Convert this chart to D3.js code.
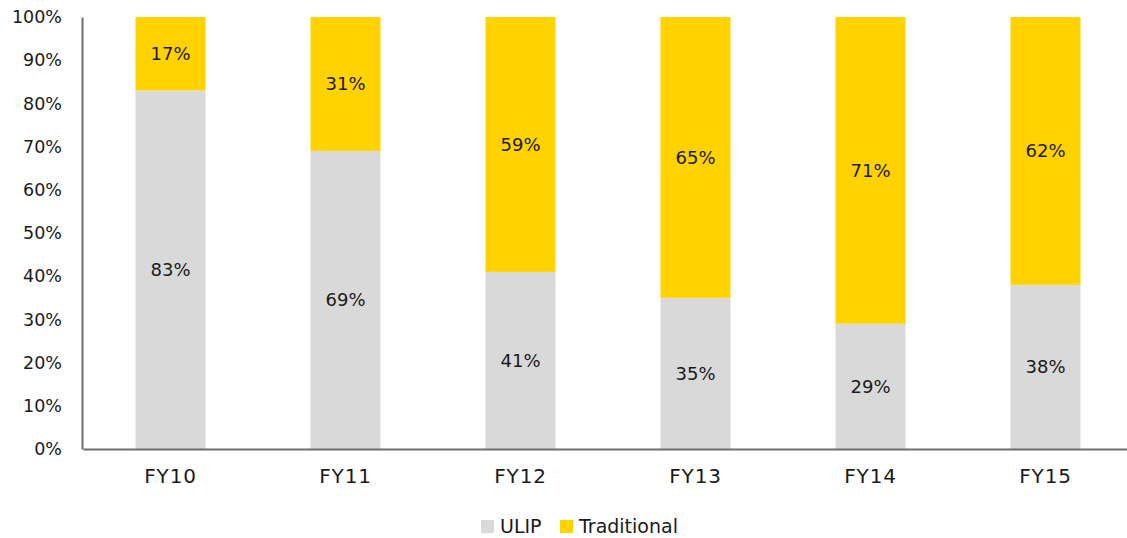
<!DOCTYPE html>
<html>
<head>
<meta charset="utf-8">
<script src="https://cdn.jsdelivr.net/npm/d3@7"></script>
<style>
  body { margin: 0; background: #fff; }
  text { font-family: "DejaVu Sans", sans-serif; fill: #1a1a1a; }
</style>
</head>
<body>
<script>
// data
const years = ["FY10", "FY11", "FY12", "FY13", "FY14", "FY15"];
const ulip = [83, 69, 41, 35, 29, 38];
const traditional = [17, 31, 59, 65, 71, 62];
const seriesNames = ["ULIP", "Traditional"];
const yTicks = [0, 10, 20, 30, 40, 50, 60, 70, 80, 90, 100];

const width = 1127, height = 538;
const margin = { top: 17, bottom: 89, left: 82, right: -5 };
const colors = ["#D9D9D9", "#FFD200"];

let svg = d3.select("body").append("svg")
    .attr("width", width)
    .attr("height", height);

let x = d3.scaleBand()
    .domain(years)
    .range([margin.left + 1, width - margin.right + 1])
    .paddingInner(0.6)
    .paddingOuter(0.3);

let y = d3.scaleLinear()
    .domain([0, 100])
    .range([height - margin.bottom, margin.top]);

// stacked bars
let rows = years.map((yr, i) => ({ year: yr, ULIP: ulip[i], Traditional: traditional[i] }));
let stacked = d3.stack().keys(seriesNames)(rows);

stacked.forEach((layer, k) => {
  let g = svg.append("g");
  g.selectAll("rect")
    .data(layer)
    .join("rect")
      .attr("x", d => x(d.data.year))
      .attr("y", d => y(Math.min(d[1], 100)))
      .attr("width", x.bandwidth())
      .attr("height", d => y(d[0]) - y(Math.min(d[1], 100)))
      .attr("fill", colors[k]);

  g.selectAll("text")
    .data(layer)
    .join("text")
      .attr("x", d => x(d.data.year) + x.bandwidth() / 2)
      .attr("y", d => (y(d[0]) + y(Math.min(d[1], 100))) / 2)
      .attr("text-anchor", "middle")
      .attr("dy", "0.36em")
      .attr("font-size", 18)
      .text(d => d.data[layer.key] + "%");
});

// y axis
let yAxis = svg.append("g")
    .attr("transform", `translate(${margin.left},0)`)
    .call(d3.axisLeft(y).tickValues(yTicks).tickSize(0).tickPadding(20).tickFormat(d => d + "%"));
yAxis.select(".domain").attr("stroke", "#6e6e6e").attr("stroke-width", 2);
yAxis.selectAll("text").attr("font-size", 17.5).attr("font-family", null);

// x axis
let xAxis = svg.append("g")
    .attr("transform", `translate(0,${height - margin.bottom})`)
    .call(d3.axisBottom(x).tickSize(0));
xAxis.select(".domain").attr("stroke", "#6e6e6e").attr("stroke-width", 2);
xAxis.selectAll("text")
    .attr("y", 34)
    .attr("dy", 0)
    .attr("font-size", 20)
    .attr("letter-spacing", 0.8)
    .attr("font-family", null);

// legend
const legendX = [481, 560];
const legendY = 520;
seriesNames.forEach((name, i) => {
  svg.append("rect")
    .attr("x", legendX[i])
    .attr("y", legendY)
    .attr("width", 13)
    .attr("height", 13)
    .attr("fill", colors[i]);
  svg.append("text")
    .attr("x", legendX[i] + 19)
    .attr("y", legendY + 12.5)
    .attr("font-size", 19)
    .text(name);
});
</script>
</body>
</html>
